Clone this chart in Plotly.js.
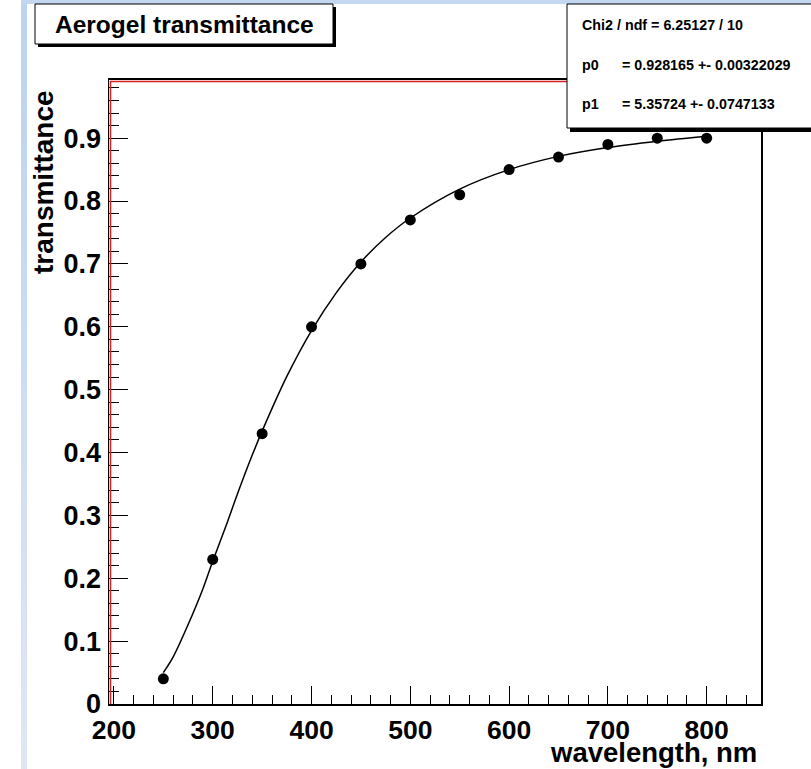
<!DOCTYPE html>
<html>
<head>
<meta charset="utf-8">
<script src="https://cdn.plot.ly/plotly-3.0.1.min.js"></script>
<style>
html,body{margin:0;padding:0;background:#ffffff;}
#wrap{position:relative;width:811px;height:769px;overflow:hidden;}
#lstrip{position:absolute;left:21px;top:0;width:6px;height:769px;background:linear-gradient(#bcd2ee,#dfe7f4);}
#tstrip{position:absolute;left:21px;top:0;width:790px;height:4px;background:#c3d7f0;}
#chart{position:absolute;left:0;top:0;width:811px;height:769px;}
</style>
</head>
<body>
<div id="wrap">
<div id="lstrip"></div>
<div id="tstrip"></div>
<div id="chart"></div>
</div>
<script>
// Measured points
const wavelength = [250, 300, 350, 400, 450, 500, 550, 600, 650, 700, 750, 800];
const transmittance = [0.04, 0.23, 0.43, 0.60, 0.70, 0.77, 0.81, 0.85, 0.87, 0.89, 0.90, 0.90];

// Fit curve
const fitX = [250, 253, 260, 275, 290, 300, 315, 325, 340, 350, 375, 400, 425, 450, 475, 500, 550, 600, 650, 700, 750, 800];
const fitY = [0.050, 0.057, 0.075, 0.126, 0.183, 0.227, 0.290, 0.334, 0.396, 0.434, 0.521, 0.594, 0.654, 0.703, 0.742, 0.773, 0.819, 0.850, 0.871, 0.885, 0.895, 0.903];

// Texts
const titleText = "Aerogel transmittance";
const xTitle = "wavelength, nm";
const yTitle = "transmittance";
const statLines = ["Chi2 / ndf = 6.25127 / 10", "p0", "= 0.928165 +- 0.00322029", "p1", "= 5.35724 +- 0.0747133"];

const W = 811, H = 769;
const L = 109, R = 761, T = 80, B = 704;
const px = x => (x - L) / (R - L);
const py = y => (B - y) / (B - T);

const FONT = "Liberation Sans, Arial, Helvetica, sans-serif";

const traces = [
  {
    x: fitX, y: fitY, type: 'scatter', mode: 'lines', line: {color: '#000', width: 1.5, shape: 'spline'},
    hoverinfo: 'skip', showlegend: false
  },
  {
    x: wavelength, y: transmittance, type: 'scatter', mode: 'markers',
    marker: {color: '#000', size: 11, symbol: 'circle'}, showlegend: false
  }
];

const shapes = [
  // red inner frame lines (top & left)
  {type: 'line', xref: 'paper', yref: 'paper', x0: px(110.5), x1: px(110.5), y0: 0, y1: py(81), line: {color: '#d02020', width: 1.5}, layer: 'above'},
  {type: 'line', xref: 'paper', yref: 'paper', x0: px(110), x1: px(761), y0: py(81.5), y1: py(81.5), line: {color: '#d02020', width: 1.5}, layer: 'above'},
  // title box shadow + box
  {type: 'rect', xref: 'paper', yref: 'paper', x0: px(38), x1: px(336), y0: py(47), y1: py(7), fillcolor: '#000', line: {width: 0}, layer: 'above'},
  {type: 'rect', xref: 'paper', yref: 'paper', x0: px(35), x1: px(333), y0: py(44), y1: py(4), fillcolor: '#fff', line: {color: '#000', width: 1}, layer: 'above'},
  // stats box shadow + box
  {type: 'rect', xref: 'paper', yref: 'paper', x0: px(570), x1: px(820), y0: py(132), y1: py(7), fillcolor: '#000', line: {width: 0}, layer: 'above'},
  {type: 'rect', xref: 'paper', yref: 'paper', x0: px(567), x1: px(818), y0: py(128), y1: py(4), fillcolor: '#fff', line: {color: '#000', width: 1}, layer: 'above'}
];

const ann = (text, x, y, size, xanchor, extra) => Object.assign({
  text: text, xref: 'paper', yref: 'paper', x: px(x), y: py(y), xanchor: xanchor, yanchor: 'middle',
  showarrow: false, font: {family: FONT, size: size, color: '#000', weight: 'bold'}
}, extra || {});

const annotations = [
  ann('<b>' + titleText + '</b>', 184, 24, 24.5, 'center'),
  ann('<b>' + statLines[0] + '</b>', 580, 25, 14.3, 'left'),
  ann('<b>' + statLines[1] + '</b>', 580, 65, 14.3, 'left'),
  ann('<b>' + statLines[2] + '</b>', 620, 65, 14.3, 'left'),
  ann('<b>' + statLines[3] + '</b>', 580, 104, 14.3, 'left'),
  ann('<b>' + statLines[4] + '</b>', 620, 104, 14.3, 'left'),
  ann('<b>' + xTitle + '</b>', 759, 752, 27.5, 'right'),
  Object.assign(ann('<b>' + yTitle + '</b>', 44, 88, 28, 'center'), {textangle: -90, yanchor: 'top'})
];

const layout = {
  width: W, height: H,
  margin: {l: L, r: W - R, t: T, b: H - B, pad: 0},
  paper_bgcolor: 'rgba(0,0,0,0)',
  plot_bgcolor: '#fff',
  font: {family: FONT, color: '#000'},
  showlegend: false,
  xaxis: {
    range: [195, 855], dtick: 100, tick0: 0, ticks: 'inside', ticklen: 18, tickwidth: 1, tickcolor: '#000',
    minor: {dtick: 20, ticks: 'inside', ticklen: 9, tickwidth: 1, tickcolor: '#000'},
    showline: true, linewidth: 2, linecolor: '#000', mirror: true, showgrid: false, zeroline: false,
    tickfont: {family: FONT, size: 26.5, weight: 'bold'}, ticklabelstandoff: 1,
    title: {text: ''}
  },
  yaxis: {
    range: [0, 0.9925], dtick: 0.1, tick0: 0, ticks: 'inside', ticklen: 19, tickwidth: 1, tickcolor: '#000',
    minor: {dtick: 0.02, ticks: 'inside', ticklen: 10, tickwidth: 1, tickcolor: '#000'},
    showline: true, linewidth: 1.5, linecolor: '#000', mirror: true, showgrid: false, zeroline: false,
    tickfont: {family: FONT, size: 27, weight: 'bold'}, ticklabelstandoff: 1,
    title: {text: ''}
  },
  shapes: shapes,
  annotations: annotations
};

Plotly.newPlot('chart', traces, layout, {staticPlot: true, displayModeBar: false});
</script>
</body>
</html>
